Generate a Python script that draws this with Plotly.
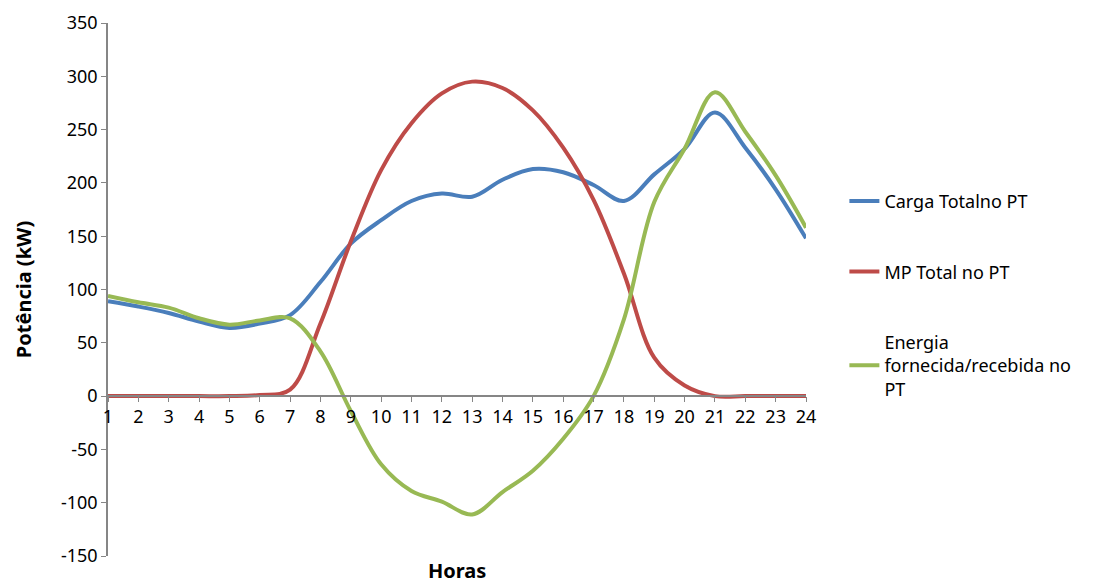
import plotly.graph_objects as go

horas = list(range(1, 25))
y_ticks = list(range(-150, 351, 50))

carga_total = [89, 84, 78, 70, 64, 68, 76, 107, 143, 165, 183, 190, 187, 203, 213, 210, 198, 183, 208, 232, 266, 233, 194, 148]
mp_total = [0, 0, 0, 0, 0, 1, 6, 68, 145, 212, 256, 284, 295, 289, 268, 233, 184, 115, 36, 10, 0, 0, 0, 0]
energia = [94, 88, 83, 73, 67, 71, 73, 42, -14, -64, -89, -99, -111, -90, -70, -40, 0, 72, 182, 232, 285, 248, 207, 158]

series = [
    ('Carga Totalno PT', carga_total, '#4A7EBB'),
    ('MP Total no PT', mp_total, '#BE4B48'),
    ('Energia<br>fornecida/recebida no<br>PT', energia, '#98B954'),
]

font_family = 'Noto Sans, DejaVu Sans, sans-serif'

fig = go.Figure()
for i, (name, vals, color) in enumerate(series):
    fig.add_trace(go.Scatter(
        x=horas, y=vals, name=name, mode='lines',
        legendgroup=f'g{i}',
        line=dict(color=color, width=4, shape='spline', smoothing=1),
    ))

# the page body adds 8px, so the figure is 8px smaller than the window
fig.update_layout(
    width=1108, height=575, autosize=False,
    margin=dict(l=100, r=310, t=15, b=27, autoexpand=False),
    paper_bgcolor='white', plot_bgcolor='white',
    font=dict(family=font_family, size=18, color='black'),
    legend=dict(x=1.055, xanchor='left', y=0.70, yanchor='top',
                tracegroupgap=44, font=dict(size=18),
                bgcolor='rgba(0,0,0,0)'),
    xaxis=dict(range=[1, 24], tickvals=horas, ticktext=[str(h) for h in horas],
               anchor='free', position=0.3, automargin=False,
               showline=True, linecolor='#868686', linewidth=1.5,
               ticks='outside', ticklen=5, tickcolor='#868686',
               showgrid=False, zeroline=False,
               tickfont=dict(size=18)),
    yaxis=dict(range=[-150, 350], tickvals=y_ticks, ticktext=[str(v) for v in y_ticks],
               automargin=False,
               showline=True, linecolor='#868686', linewidth=1.5,
               ticks='outside', ticklen=5, tickcolor='#868686',
               showgrid=False, zeroline=False,
               tickfont=dict(size=18),
               title=dict(text='<b>Potência (kW)</b>', font=dict(size=20), standoff=24)),
    annotations=[dict(text='<b>Horas</b>', x=0.5, y=0, xref='paper', yref='paper',
                      xanchor='center', yanchor='top', yshift=1, showarrow=False,
                      font=dict(size=20))],
)

fig.write_html('out.html')
